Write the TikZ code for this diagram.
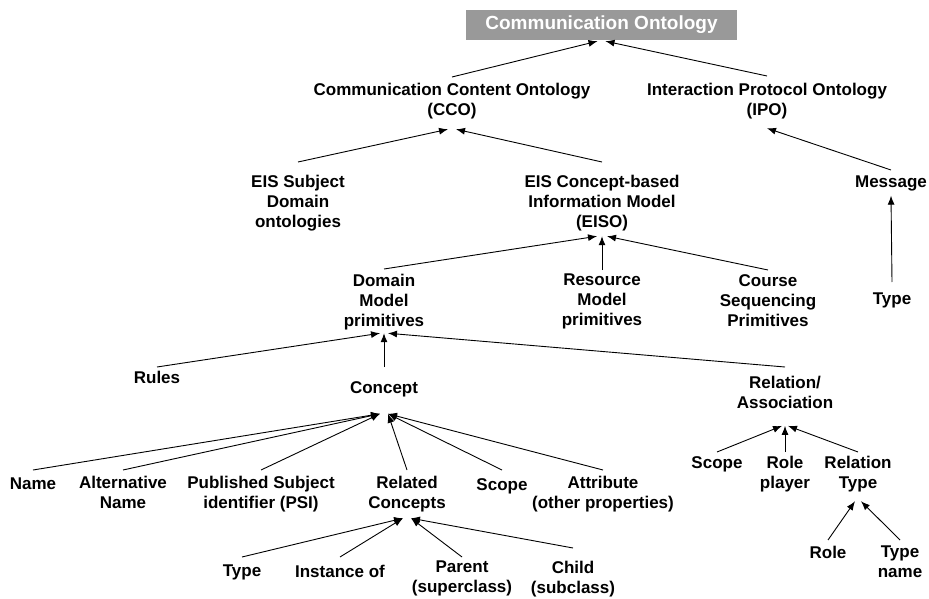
\documentclass[tikz,border=0pt]{standalone}
\usepackage{fontspec}
\setmainfont{Liberation Sans}
\usetikzlibrary{arrows.meta}
\definecolor{titlegray}{RGB}{153,153,153}
\tikzset{
    lbl/.style={anchor=north, align=center, inner sep=0pt, font=\bfseries\fontsize{17}{20}\selectfont},
    arr/.style={-{Latex[length=9pt,width=7pt]}, line width=0.9pt}
}
\begin{document}
\begin{tikzpicture}[x=1pt,y=-1pt]
    \useasboundingbox (0,0) rectangle (929,599);
    \node[fill=titlegray, text=white, minimum width=271pt, minimum height=30pt, inner sep=0pt,
          font=\bfseries\fontsize{19}{20}\selectfont] (title) at (601.5,25) {Communication Ontology};
    % second and third levels
    \node[lbl] (cco) at (452,83) {Communication Content Ontology\\(CCO)};
    \node[lbl] (ipo) at (767,83) {Interaction Protocol Ontology\\(IPO)};
    \node[lbl] (eissub) at (298,175) {EIS Subject\\Domain\\ontologies};
    \node[lbl] (eiso) at (602,175) {EIS Concept-based\\Information Model\\(EISO)};
    \node[lbl] (msg) at (891,176) {Message};
    \node[lbl] (dmp) at (384,274) {Domain\\Model\\primitives};
    \node[lbl] (rmp) at (602,274) {Resource\\Model\\primitives};
    \node[lbl] (csp) at (768,274) {Course\\Sequencing\\Primitives};
    \node[lbl] (msgtype) at (892,293) {Type};
    % domain model
    \node[lbl] (rules) at (157,371) {Rules};
    \node[lbl] (concept) at (384,381) {Concept};
    \node[lbl] (relassoc) at (785,376) {Relation/\\Association};
    \node[lbl] (name) at (33,478) {Name};
    \node[lbl] (altname) at (123,476) {Alternative\\Name};
    \node[lbl] (psi) at (261,476) {Published Subject\\identifier (PSI)};
    \node[lbl] (relcon) at (407,476) {Related\\Concepts};
    \node[lbl] (cscope) at (502,478) {Scope};
    \node[lbl] (attr) at (603,476) {Attribute\\(other properties)};
    \node[lbl] (rscope) at (717,456) {Scope};
    \node[lbl] (roleplayer) at (785,456) {Role\\player};
    \node[lbl] (reltype) at (858,456) {Relation\\Type};
    \node[lbl] (role) at (828,546) {Role};
    \node[lbl] (typename) at (900,546) {Type\\name};
    \node[lbl] (rctype) at (242,565) {Type};
    \node[lbl] (instof) at (340,565) {Instance of};
    \node[lbl] (parent) at (462,561) {Parent\\(superclass)};
    \node[lbl] (child) at (573,561) {Child\\(subclass)};
    % connectors: child/gap/parent/gap/side
    \foreach \c/\a/\p/\b/\d in {cco/6/title/1/-4, ipo/7/title/1/4,
        eissub/13/cco/10/-4, eiso/13/cco/10/4, msg/6/ipo/9/0, msgtype/11/msg/4/0,
        dmp/5/eiso/5/-5, rmp/4/eiso/5/0, csp/4/eiso/5/5,
        rules/4/dmp/3/-4, concept/14/dmp/3/0, relassoc/9/dmp/3/4,
        name/8/concept/17/-4, altname/6/concept/17/-4, psi/6/concept/17/-4,
        relcon/6/concept/17/4, cscope/8/concept/17/4, attr/6/concept/17/4,
        rscope/4/relassoc/17/-3, roleplayer/4/relassoc/17/0, reltype/4/relassoc/17/3,
        role/6/reltype/9/-3, typename/6/reltype/9/3,
        rctype/8/relcon/6/-4, instof/8/relcon/6/-4, parent/4/relcon/6/4, child/13/relcon/6/4} {
        \draw[arr] ([yshift=\a pt]\c.north) -- ([xshift=\d pt,yshift=-\b pt]\p.south);
    }
\end{tikzpicture}
\end{document}
